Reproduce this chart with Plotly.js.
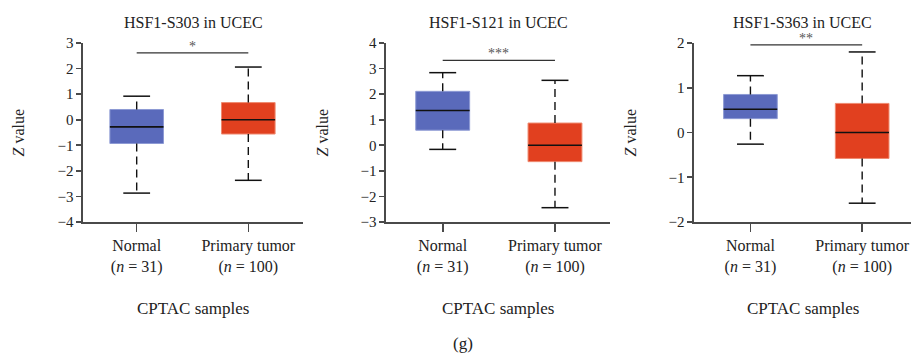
<!DOCTYPE html>
<html>
<head>
<meta charset="utf-8">
<script src="https://cdn.plot.ly/plotly-3.0.1.min.js"></script>
<style>html,body{margin:0;padding:0;background:#fff;}#chart{width:911px;height:355px;}</style>
</head>
<body>
<div id="chart"></div>
<script>
// ---- data ----
const categories = ['Normal', 'Primary tumor'];
const sampleSizes = [31, 100];
const panelTitles = ['HSF1-S303 in UCEC', 'HSF1-S121 in UCEC', 'HSF1-S363 in UCEC'];
const lowerWhisker = [[-2.87, -2.37], [-0.16, -2.44], [-0.26, -1.58]];
const q1Values     = [[-0.93, -0.56], [0.59, -0.64], [0.31, -0.58]];
const medianValues = [[-0.28, 0.00], [1.36, 0.00], [0.52, 0.00]];
const q3Values     = [[0.40, 0.67], [2.11, 0.87], [0.85, 0.65]];
const upperWhisker = [[0.92, 2.06], [2.84, 2.54], [1.27, 1.80]];
const sigLevel = [2.61, 3.32, 1.96];
const sigLabels = ['*', '***', '**'];
const yRanges = [[-4, 3], [-3, 4], [-2, 2]];
const yTicks = [[-4, -3, -2, -1, 0, 1, 2, 3], [-3, -2, -1, 0, 1, 2, 3, 4], [-2, -1, 0, 1, 2]];
const xAxisTitle = 'CPTAC samples';
const yAxisTitle = '<i>Z</i> value';
const figureLabel = '(g)';

// ---- style ----
const fillColors = ['#5a6abb', '#e1401f'];
const edgeColors = ['#8d9ad4', '#ef8a70'];
const boxWidth = 0.48;
const capHalf = 0.12;
const font = 'Liberation Serif';
const axisColor = '#4a4a4a';
const xDomains = [[83 / 911, 303 / 911], [386 / 911, 610 / 911], [694 / 911, 1.0]];
const xRanges = [[-0.481, 1.49], [-0.505, 1.49], [-0.505, 1.437]];
const yDomain = [1 - 222 / 355, 1 - 43 / 355];

const traces = [];
const layout = {
  width: 911, height: 355,
  margin: {l: 0, r: 0, t: 0, b: 0},
  paper_bgcolor: '#fff', plot_bgcolor: 'rgba(0,0,0,0)',
  showlegend: false, barmode: 'overlay',
  font: {family: font, color: '#222'},
  annotations: []
};

const tickText = categories.map((c, i) => c + '<br>(<i>n</i> = ' + sampleSizes[i] + ')');
const xs = categories.map((c, i) => i);

for (let p = 0; p < 3; p++) {
  const sx = p === 0 ? '' : String(p + 1);
  const xa = 'x' + sx, ya = 'y' + sx;
  traces.push({
    type: 'bar', x: xs, base: q1Values[p],
    y: q3Values[p].map((v, i) => v - q1Values[p][i]),
    width: boxWidth,
    marker: {color: fillColors, line: {color: edgeColors, width: 1}},
    xaxis: xa, yaxis: ya, hoverinfo: 'skip'
  });
  xs.forEach((x, i) => {
    traces.push({type: 'scatter', mode: 'lines', x: [x, x], y: [q3Values[p][i], upperWhisker[p][i]],
      line: {color: '#111', width: 1.4, dash: '8px,5px'}, xaxis: xa, yaxis: ya, hoverinfo: 'skip'});
    traces.push({type: 'scatter', mode: 'lines', x: [x, x], y: [q1Values[p][i], lowerWhisker[p][i]],
      line: {color: '#111', width: 1.4, dash: '8px,5px'}, xaxis: xa, yaxis: ya, hoverinfo: 'skip'});
    [upperWhisker[p][i], lowerWhisker[p][i]].forEach(v => {
      traces.push({type: 'scatter', mode: 'lines', x: [x - capHalf, x + capHalf], y: [v, v],
        line: {color: '#111', width: 1.5}, xaxis: xa, yaxis: ya, hoverinfo: 'skip'});
    });
    traces.push({type: 'scatter', mode: 'lines', x: [x - boxWidth / 2, x + boxWidth / 2],
      y: [medianValues[p][i], medianValues[p][i]],
      line: {color: '#111', width: 1.6}, xaxis: xa, yaxis: ya, hoverinfo: 'skip'});
  });
  traces.push({type: 'scatter', mode: 'lines', x: [xs[0], xs[1]], y: [sigLevel[p], sigLevel[p]],
    line: {color: '#333', width: 1.2}, xaxis: xa, yaxis: ya, hoverinfo: 'skip'});
  layout.annotations.push({xref: xa, yref: ya, x: 0.5, y: sigLevel[p], text: sigLabels[p],
    showarrow: false, yanchor: 'bottom', yshift: -3, font: {family: font, size: 14, color: '#555'}});

  layout['xaxis' + sx] = {
    domain: xDomains[p], range: xRanges[p], anchor: ya,
    tickvals: xs, ticktext: tickText, tickmode: 'array',
    showline: true, linecolor: axisColor, linewidth: 1.6,
    ticks: 'outside', ticklen: 8, tickwidth: 1.6, tickcolor: axisColor,
    showgrid: false, zeroline: false, fixedrange: true,
    tickfont: {family: font, size: 16, color: '#222'}
  };
  layout['yaxis' + sx] = {
    domain: yDomain, range: yRanges[p], anchor: xa,
    tickvals: yTicks[p], tickmode: 'array',
    showline: true, linecolor: axisColor, linewidth: 1.6,
    ticks: 'outside', ticklen: 5, tickwidth: 1.6, tickcolor: axisColor,
    showgrid: false, zeroline: false, fixedrange: true,
    tickfont: {family: font, size: 15, color: '#222'}
  };
  const cx = (xDomains[p][0] + xDomains[p][1]) / 2;
  layout.annotations.push({xref: 'paper', yref: 'paper', x: cx, y: 1 - 22 / 355, text: panelTitles[p],
    showarrow: false, xanchor: 'center', yanchor: 'middle', font: {family: font, size: 16, color: '#222'}});
  layout.annotations.push({xref: 'paper', yref: 'paper', x: cx, y: 1 - 308 / 355, text: xAxisTitle,
    showarrow: false, xanchor: 'center', yanchor: 'middle', font: {family: font, size: 17, color: '#222'}});
  const yTitleX = [18, 322, 630][p] / 911;
  layout.annotations.push({xref: 'paper', yref: 'paper', x: yTitleX, y: (yDomain[0] + yDomain[1]) / 2,
    text: yAxisTitle, textangle: -90, showarrow: false, xanchor: 'center', yanchor: 'middle',
    font: {family: font, size: 16, color: '#222'}});
}
layout.annotations.push({xref: 'paper', yref: 'paper', x: 463 / 911, y: 1 - 343 / 355, text: figureLabel,
  showarrow: false, xanchor: 'center', yanchor: 'middle', font: {family: font, size: 17, color: '#222'}});

Plotly.newPlot('chart', traces, layout, {displayModeBar: false, staticPlot: true});
</script>
</body>
</html>
